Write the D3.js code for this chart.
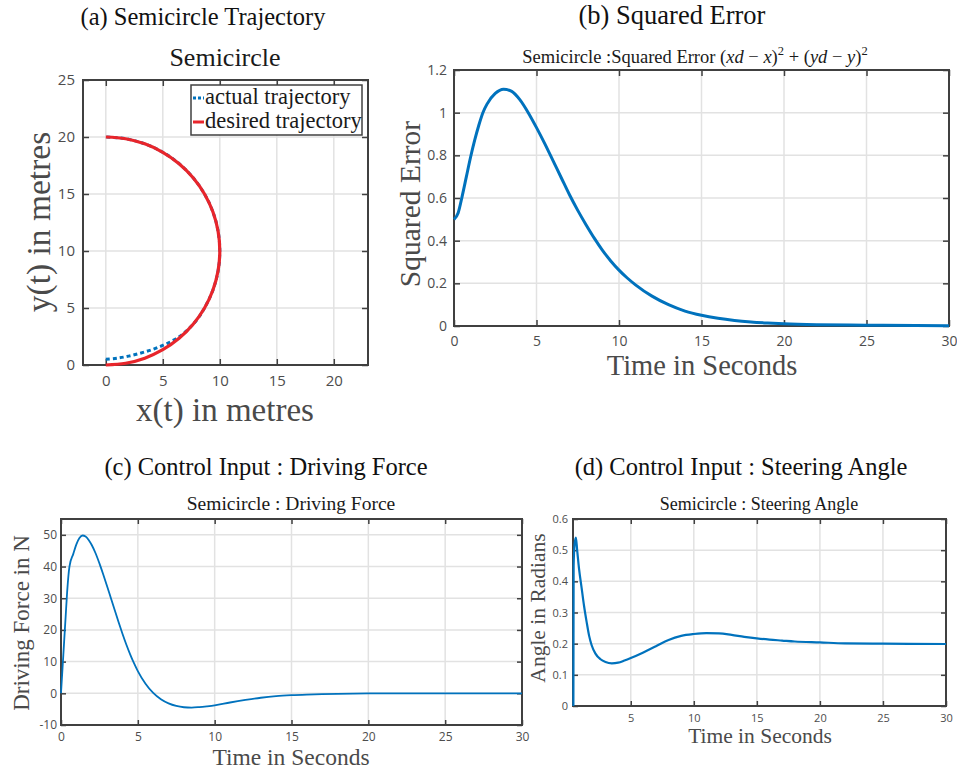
<!DOCTYPE html>
<html>
<head>
<meta charset="utf-8">
<title>Semicircle</title>
<script src="https://d3js.org/d3.v7.min.js"></script>
<style>
  body { margin: 0; background: #fff; }
  .serif { font-family: "Liberation Serif", "DejaVu Serif", serif; }
</style>
</head>
<body>
<svg id="fig" width="957" height="769"></svg>
<script>
// ---------- data ----------
// (a) trajectory
var desiredX = [0, 1.74, 3.42, 5.0, 6.43, 7.66, 8.66, 9.4, 9.85, 10, 9.85, 9.4, 8.66, 7.66, 6.43, 5.0, 3.42, 1.74, 0];
var desiredY = [0, 0.15, 0.6, 1.34, 2.34, 3.57, 5.0, 6.58, 8.26, 10, 11.74, 13.42, 15.0, 16.43, 17.66, 18.66, 19.4, 19.85, 20];
var actualX = [0, 1, 2, 3, 4, 5, 6, 6.8, 7.4, 8.0, 8.66, 9.4, 9.85, 10, 9.85, 9.4, 8.66, 7.66, 6.43, 5.0, 3.42, 1.74, 0];
var actualY = [0.5, 0.6, 0.78, 1.03, 1.33, 1.72, 2.2, 2.75, 3.3, 3.98, 5.0, 6.58, 8.26, 10, 11.74, 13.42, 15.0, 16.43, 17.66, 18.66, 19.4, 19.85, 20];
var trajTicksX = [0, 5, 10, 15, 20];
var trajTicksY = [0, 5, 10, 15, 20, 25];
var legendLabels = ["actual trajectory", "desired trajectory"];

// (b) squared error
var errT = [0, 0.25, 0.5, 0.75, 1.0, 1.25, 1.5, 1.75, 2.0, 2.5, 3.0, 3.5, 4.0, 4.5, 5.0, 5.5, 6.0, 6.5, 7.0, 7.5, 8.0, 8.5, 9.0, 9.5, 10, 10.5, 11, 12, 13, 14, 15, 16, 17, 18, 19, 20, 22, 25, 28, 30];
var errV = [0.50, 0.53, 0.61, 0.70, 0.79, 0.87, 0.94, 1.00, 1.04, 1.09, 1.11, 1.10, 1.06, 1.00, 0.93, 0.855, 0.775, 0.695, 0.615, 0.542, 0.475, 0.412, 0.355, 0.305, 0.262, 0.225, 0.193, 0.140, 0.100, 0.070, 0.050, 0.036, 0.026, 0.019, 0.014, 0.010, 0.006, 0.004, 0.002, 0.001];
var timeTicks = [0, 5, 10, 15, 20, 25, 30];
var errTicks = [0, 0.2, 0.4, 0.6, 0.8, 1, 1.2];

// (c) driving force
var forceT = [0, 0.1, 0.2, 0.3, 0.4, 0.55, 0.8, 1.0, 1.2, 1.4, 1.6, 1.8, 2.0, 2.25, 2.5, 2.75, 3.0, 3.25, 3.5, 3.75, 4.0, 4.25, 4.5, 4.75, 5.0, 5.5, 6.0, 6.5, 7.0, 7.5, 8.0, 8.5, 9.0, 9.5, 10, 11, 12, 13, 14, 15, 16, 17, 18, 20, 22, 25, 30];
var forceV = [0, 8, 16, 24, 32, 40, 44, 47, 49, 49.8, 49.5, 48.4, 46.8, 44.2, 41.0, 37.5, 33.8, 30.0, 26.2, 22.4, 18.8, 15.4, 12.3, 9.5, 7.0, 3.0, 0.1, -1.9, -3.2, -4.0, -4.4, -4.5, -4.35, -4.1, -3.8, -2.9, -2.1, -1.4, -0.9, -0.6, -0.4, -0.25, -0.15, -0.05, 0, 0, 0];
var forceTicks = [-10, 0, 10, 20, 30, 40, 50];

// (d) steering angle
var angleT = [0.45, 0.47, 0.55, 0.65, 0.75, 0.9, 1.1, 1.3, 1.5, 1.7, 1.9, 2.2, 2.6, 3.0, 3.5, 4.0, 4.5, 5.0, 6.0, 7.0, 8.0, 9.0, 10, 11, 12, 13, 14, 15, 16, 17, 18, 20, 22, 25, 30];
var angleV = [0, 0.45, 0.52, 0.54, 0.50, 0.44, 0.38, 0.32, 0.27, 0.225, 0.195, 0.168, 0.150, 0.141, 0.137, 0.139, 0.146, 0.154, 0.172, 0.192, 0.212, 0.225, 0.231, 0.234, 0.233, 0.228, 0.222, 0.217, 0.213, 0.210, 0.207, 0.204, 0.201, 0.200, 0.199];
var angleTicksX = [5, 10, 15, 20, 25, 30];
var angleTicksY = [0, 0.1, 0.2, 0.3, 0.4, 0.5, 0.6];

// ---------- drawing ----------
var svg = d3.select("#fig");
var blue = "#0072bd", red = "#e8252b", boxColor = "#404040", gridColor = "#e2e2e2", labelColor = "#4a4a4a";

function panel(o) {
    var g = svg.append("g");
    var x = d3.scaleLinear().domain(o.xDomain).range([o.left, o.right]);
    var y = d3.scaleLinear().domain(o.yDomain).range([o.bottom, o.top]);

    // grid
    g.append("g").selectAll("line").data(o.xTicks).join("line")
        .attr("x1", d => x(d)).attr("x2", d => x(d))
        .attr("y1", o.top).attr("y2", o.bottom)
        .attr("stroke", gridColor).attr("stroke-width", 1.5);
    g.append("g").selectAll("line").data(o.yTicks).join("line")
        .attr("y1", d => y(d)).attr("y2", d => y(d))
        .attr("x1", o.left).attr("x2", o.right)
        .attr("stroke", gridColor).attr("stroke-width", 1.5);

    var len = o.tickLen || 5;
    var axes = [
        [d3.axisBottom(x).tickValues(o.xTicks).tickPadding(o.padX).tickFormat(String), 0, o.bottom],
        [d3.axisTop(x).tickValues(o.xTicks).tickFormat(""), 0, o.top],
        [d3.axisLeft(y).tickValues(o.yTicks).tickPadding(o.padY).tickFormat(String), o.left, 0],
        [d3.axisRight(y).tickValues(o.yTicks).tickFormat(""), o.right, 0]
    ];
    axes.forEach(function (a) {
        var ax = g.append("g")
            .attr("transform", "translate(" + a[1] + "," + a[2] + ")")
            .call(a[0].tickSize(-len))
            .attr("font-family", "'Open Sans', sans-serif")
            .attr("font-size", o.tickFont)
            .attr("color", "#4d4d4d");
        ax.select(".domain").remove();
        ax.selectAll("line").attr("stroke", boxColor).attr("stroke-width", 1.5);
    });

    g.append("rect")
        .attr("x", o.left).attr("y", o.top)
        .attr("width", o.right - o.left).attr("height", o.bottom - o.top)
        .attr("fill", "none").attr("stroke", boxColor).attr("stroke-width", 2);

    return {g: g, x: x, y: y};
}

function label(txt, x, y, size, color, rotate) {
    return svg.append("text")
        .attr("class", "serif")
        .attr("text-anchor", "middle")
        .attr("transform", "translate(" + x + "," + y + ")" + (rotate ? " rotate(-90)" : ""))
        .attr("font-size", size)
        .attr("fill", color)
        .text(txt);
}

// ===== (a) Semicircle trajectory =====
var pa = panel({left: 83, right: 368, top: 80, bottom: 365,
    xDomain: [-2, 23], yDomain: [0, 25], xTicks: trajTicksX, yTicks: trajTicksY,
    tickFont: 15, padX: 10, padY: 8, tickLen: 6});

var trajLine = d3.line().x(d => pa.x(d[0])).y(d => pa.y(d[1])).curve(d3.curveCatmullRom);
pa.g.append("path")
    .attr("d", trajLine(d3.zip(actualX, actualY)))
    .attr("fill", "none").attr("stroke", blue).attr("stroke-width", 3)
    .attr("stroke-dasharray", "4,3");
pa.g.append("path")
    .attr("d", trajLine(d3.zip(desiredX, desiredY)))
    .attr("fill", "none").attr("stroke", red).attr("stroke-width", 3.2);

// legend
var leg = pa.g.append("g");
leg.append("rect").attr("x", 191).attr("y", 85).attr("width", 171).attr("height", 50)
    .attr("fill", "#fff").attr("stroke", boxColor).attr("stroke-width", 1.5);
leg.selectAll("line.sample").data(legendLabels).join("line")
    .attr("class", "sample")
    .attr("x1", 193).attr("x2", 204)
    .attr("y1", (d, i) => 98 + i * 24).attr("y2", (d, i) => 98 + i * 24)
    .attr("stroke", (d, i) => i === 0 ? blue : red)
    .attr("stroke-width", 3)
    .attr("stroke-dasharray", (d, i) => i === 0 ? "3,2" : null);
leg.selectAll("text").data(legendLabels).join("text")
    .attr("class", "serif")
    .attr("x", 205).attr("y", (d, i) => 104 + i * 24)
    .attr("font-size", 22.5).attr("fill", "#1a1a1a")
    .text(d => d);

label("(a) Semicircle Trajectory", 203, 25, 24.5, "#111");
label("Semicircle", 225, 66, 26, "#1a1a1a");
label("x(t) in metres", 225, 421, 33, labelColor);
label("y(t) in metres", 50, 222, 33.5, labelColor, true);

// ===== (b) Squared error =====
var pb = panel({left: 454, right: 949, top: 70, bottom: 326,
    xDomain: [0, 30], yDomain: [0, 1.2], xTicks: timeTicks, yTicks: errTicks,
    tickFont: 14, padX: 10, padY: 7, tickLen: 6});
pb.g.append("path")
    .attr("d", d3.line().x((d, i) => pb.x(errT[i])).y(d => pb.y(d)).curve(d3.curveMonotoneX)(errV))
    .attr("fill", "none").attr("stroke", blue).attr("stroke-width", 3);

label("(b) Squared Error", 672, 24, 26.5, "#111");
var tb = svg.append("text").attr("class", "serif")
    .attr("text-anchor", "middle").attr("x", 695).attr("y", 63)
    .attr("font-size", 18.5).attr("fill", "#1a1a1a");
[["Semicircle :Squared Error (", "normal"], ["xd", "italic"], [" \u2212 ", "normal"], ["x", "italic"], [")", "normal"],
 ["2", "sup"], [" + (", "normal"], ["yd", "italic"], [" \u2212 ", "normal"], ["y", "italic"], [")", "normal"], ["2", "sup"]]
    .forEach(function (p, i, arr) {
        var t = tb.append("tspan").text(p[0]);
        if (p[1] === "italic") t.attr("font-style", "italic");
        if (p[1] === "sup") t.attr("font-size", 12.5).attr("dy", -8);
        if (i > 0 && arr[i - 1][1] === "sup") t.attr("dy", 8);
    });
label("Time in Seconds", 702, 375, 28.5, labelColor);
label("Squared Error", 420, 204, 29.5, labelColor, true);

// ===== (c) Driving force =====
var pc = panel({left: 61, right: 522, top: 519, bottom: 725,
    xDomain: [0, 30], yDomain: [-10, 55], xTicks: timeTicks, yTicks: forceTicks,
    tickFont: 12, padX: 7, padY: 4, tickLen: 5});
pc.g.append("path")
    .attr("d", d3.line().x((d, i) => pc.x(forceT[i])).y(d => pc.y(d)).curve(d3.curveMonotoneX)(forceV))
    .attr("fill", "none").attr("stroke", blue).attr("stroke-width", 1.8);

label("(c) Control Input : Driving Force", 266, 475, 24.5, "#111");
label("Semicircle : Driving Force", 291, 510, 19.5, "#1a1a1a");
label("Time in Seconds", 291, 765, 23.5, labelColor);
label("Driving Force in N", 29, 623, 23, labelColor, true);

// ===== (d) Steering angle =====
var pd = panel({left: 573, right: 946, top: 519, bottom: 706,
    xDomain: [0.42, 30], yDomain: [0, 0.6], xTicks: angleTicksX, yTicks: angleTicksY,
    tickFont: 11, padX: 8, padY: 5, tickLen: 5});
pd.g.append("path")
    .attr("d", d3.line().x((d, i) => pd.x(angleT[i])).y(d => pd.y(d)).curve(d3.curveMonotoneX)(angleV))
    .attr("fill", "none").attr("stroke", blue).attr("stroke-width", 2.2);

label("(d) Control Input : Steering Angle", 741, 475, 24.5, "#111");
label("Semicircle : Steering Angle", 759, 510, 18, "#1a1a1a");
label("Time in Seconds", 760, 743, 21.5, labelColor);
label("Angle in Radians", 545, 608, 21.5, labelColor, true);
</script>
</body>
</html>
